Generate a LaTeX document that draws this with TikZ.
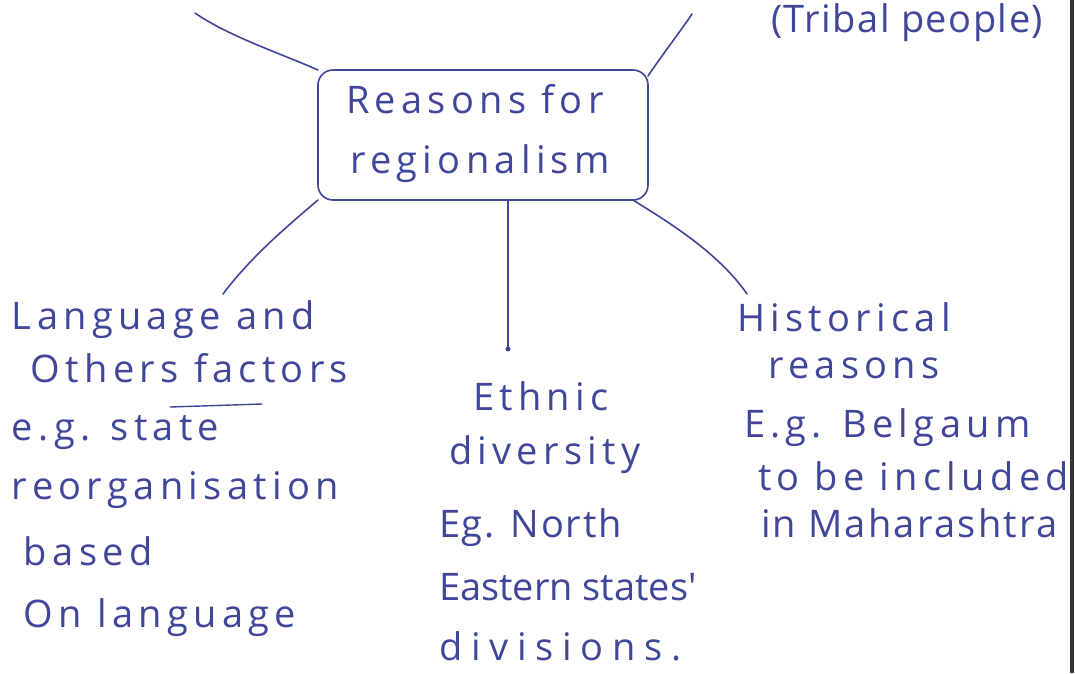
\documentclass[tikz,border=0pt]{standalone}
\usepackage{fontspec}
\newfontfamily\handfont{Open Sans}[LetterSpace=14]
\definecolor{ink}{HTML}{40469A}
\newcommand\firstline{\rule{0pt}{30pt}}
\newcommand\track[2]{{\addfontfeatures{LetterSpace=#1}#2}}
\begin{document}
\begin{tikzpicture}[x=1pt,y=-1pt,
  hand/.style={text=ink, font=\handfont\fontsize{38}{50}\selectfont,
    inner sep=0pt, outer sep=0pt, align=left, anchor=north west},
  conn/.style={draw=ink, line width=1.6pt, line cap=round},
  box/.style={draw=ink, line width=1.6pt, rounded corners=15pt,
    inner sep=0pt, outer sep=0pt}]
\useasboundingbox (0,0) rectangle (1075,673);
\fill[white] (0,0) rectangle (1075,673);
\begin{scope}
\clip (0,0) rectangle (1075,673);

% central box
\node[box, minimum width=330pt, minimum height=130pt, anchor=north west] (root) at (318,70) {};
\node[hand] (title) at (346,83) {\firstline Reasons for\\[10pt]\hspace*{4pt}regionalism};

% branch texts
\node[hand, anchor=base west] (tribal) at (771,32) {\track{4}{(Tribal people)}};
\node[hand] (lang) at (12,299) {\firstline Language and\\[3pt]
  \hspace*{19pt}Others factors\\[8pt]
  e.g. state\\[9pt]
  reorganisation\\[16pt]
  \hspace*{12pt}based\\[12pt]
  \hspace*{12pt}On language};
\node[hand] (ethnic) at (439,380) {\firstline\hspace*{34pt}Ethnic\\[4pt]
  \hspace*{10pt}diversity\\[23pt]
  \track{5}{Eg. North}\\[13pt]
  \track{0}{Eastern states'}\\[10pt]
  \track{23}{divisions.}};
\node[hand] (hist) at (737,301) {\firstline Historical\\[-3pt]
  \hspace*{31pt}reasons\\[9pt]
  \hspace*{7pt}E.g. Belgaum\\[3pt]
  \hspace*{21pt}to be included\\[-3pt]
  \hspace*{24pt}\track{6}{in Maharashtra}};

% stroke over "state"
\draw[conn, line width=1.4pt] (170,407) -- (262,404);

% connectors
\coordinate (tlend) at (195,13);
\coordinate (trend) at (692,14);
\coordinate (lend) at (223,294);
\coordinate (mend) at (508,349);
\coordinate (rend) at (747,294);
\draw[conn] (tlend) .. controls (228,36) and (282,54) .. (root.north west);
\draw[conn] (trend) .. controls (680,32) and (662,55) .. ([yshift=-6pt]root.north east);
\draw[conn] (root.south west) .. controls (285,228) and (250,258) .. (lend);
\draw[conn] (root.south -| mend) -- (mend);
\fill[ink] (mend) circle (2.5pt);
\draw[conn] ([xshift=-15pt]root.south east) .. controls (668,222) and (718,252) .. (rend);

% page edge
\fill[black!80] (1070,0) rectangle (1074,673);
\end{scope}
\end{tikzpicture}
\end{document}
